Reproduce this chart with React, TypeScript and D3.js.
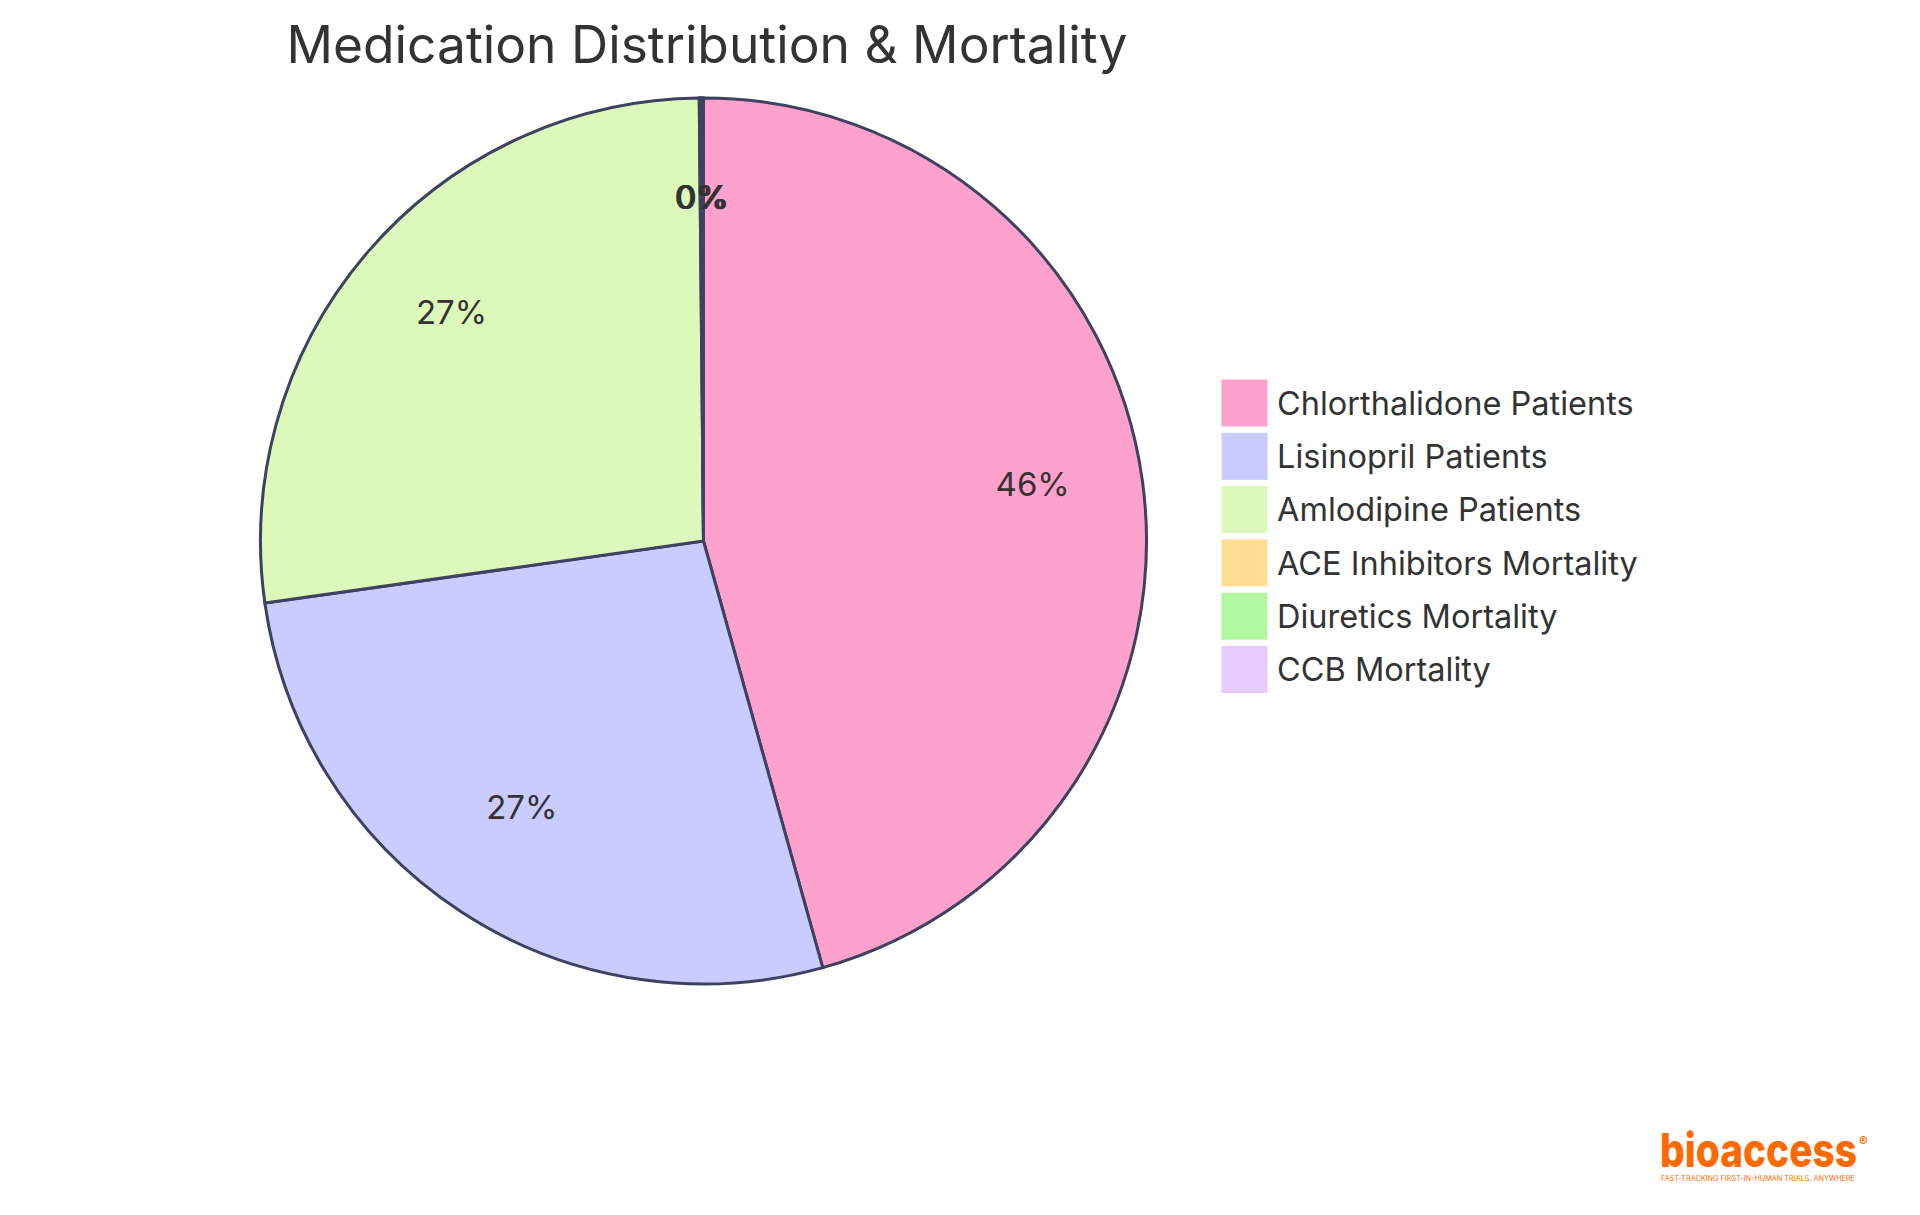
import React from 'react';
import * as d3 from 'd3';

// slice data, in legend order
const labels = [
  'Chlorthalidone Patients',
  'Lisinopril Patients',
  'Amlodipine Patients',
  'ACE Inhibitors Mortality',
  'Diuretics Mortality',
  'CCB Mortality',
];
const values = [15255, 9054, 9048, 17.2, 17.3, 16.8];
const colors = ['#FFA1CD', '#CACBFF', '#DCF9BB', '#FFDE94', '#B4F7A1', '#E7CAFE'];

const title = 'Medication Distribution & Mortality';

export default function App() {
  const width = 1920;
  const height = 1215;
  const cx = 703.5;
  const cy = 541;
  const radius = 443;
  const font = "Inter, 'Noto Sans', sans-serif";

  const data = labels.map((label, i) => ({ label, value: values[i], color: colors[i] }));
  const total = d3.sum(values);

  const pie = d3.pie<typeof data[0]>().value(d => d.value).sort(null);
  const arcs = pie(data);

  const arc = d3.arc<d3.PieArcDatum<typeof data[0]>>().innerRadius(0).outerRadius(radius);
  const labelArc = d3.arc<d3.PieArcDatum<typeof data[0]>>()
    .innerRadius(radius * 0.75)
    .outerRadius(radius * 0.75);

  const legendY = d3.scaleBand<string>()
    .domain(labels)
    .range([376.5, 376.5 + 53.3 * labels.length])
    .paddingInner(0);

  return (
    <div style={{ position: 'absolute', left: 0, top: 0 }}>
      <svg width={width} height={height} style={{ display: 'block', background: '#fff' }}>
        <text
          x={707}
          y={63}
          textAnchor="middle"
          fill="#333"
          style={{ fontFamily: font, fontSize: 51.5, fontWeight: 400 }}
        >
          {title}
        </text>

        <g transform={`translate(${cx},${cy})`}>
          {arcs.map(a => (
            <path
              key={a.data.label}
              d={arc(a) || ''}
              fill={a.data.color}
              stroke="#3d4260"
              strokeWidth={3}
            />
          ))}
          {arcs.map(a => {
            const [x, y] = labelArc.centroid(a);
            return (
              <text
                key={'l' + a.data.label}
                transform={`translate(${x},${y})`}
                textAnchor="middle"
                fill="#333"
                style={{ fontFamily: font, fontSize: 33 }}
              >
                {`${((a.data.value / total) * 100).toFixed(0)}%`}
              </text>
            );
          })}
        </g>

        <g>
          {labels.map((label, i) => {
            const y = legendY(label) || 0;
            return (
              <g key={label} transform={`translate(1222,${y + 3.5})`}>
                <rect width={45} height={46} fill={colors[i]} stroke={colors[i]} strokeWidth={1} />
                <text
                  x={55}
                  y={23}
                  dy="0.36em"
                  fill="#333"
                  style={{ fontFamily: font, fontSize: 32.5 }}
                >
                  {label}
                </text>
              </g>
            );
          })}
        </g>

        <g style={{ fontFamily: font }} fill="#FF6A00">
          <text
            x={1660}
            y={1167}
            textLength={197}
            lengthAdjust="spacingAndGlyphs"
            style={{ fontSize: 47, fontWeight: 800 }}
          >
            bioaccess
          </text>
          <text x={1859} y={1146} style={{ fontSize: 13, fontWeight: 700 }}>®</text>
          <text
            x={1661}
            y={1181}
            textLength={194}
            lengthAdjust="spacingAndGlyphs"
            style={{ fontSize: 7 }}
          >
            FAST-TRACKING FIRST-IN-HUMAN TRIALS, ANYWHERE
          </text>
        </g>
      </svg>
    </div>
  );
}
